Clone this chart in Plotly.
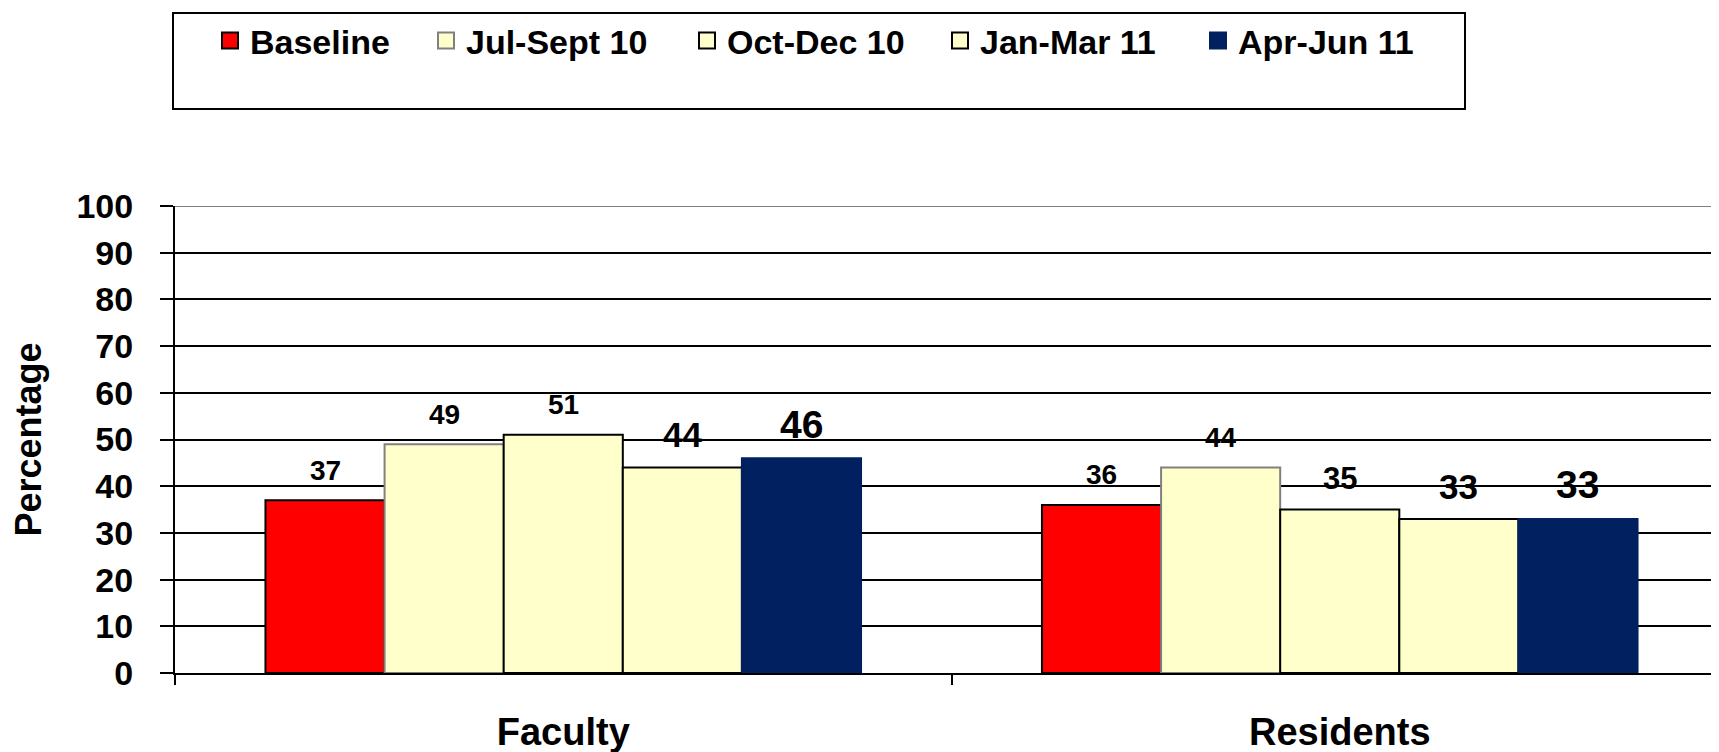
import plotly.graph_objects as go

# ---- data ----
categories = ["Faculty", "Residents"]
series_names = ["Baseline", "Jul-Sept 10", "Oct-Dec 10", "Jan-Mar 11", "Apr-Jun 11"]
baseline = [37, 36]
jul_sept_10 = [49, 44]
oct_dec_10 = [51, 35]
jan_mar_11 = [44, 33]
apr_jun_11 = [46, 33]
series_values = [baseline, jul_sept_10, oct_dec_10, jan_mar_11, apr_jun_11]
y_ticks = [0, 10, 20, 30, 40, 50, 60, 70, 80, 90, 100]

# ---- styles ----
fills = ["#FF0000", "#FFFFCC", "#FFFFCC", "#FFFFCC", "#002060"]
outlines = ["#000000", "#808080", "#000000", "#000000", "#002060"]
label_sizes = [[28, 28], [28, 28], [28, 31], [35, 35], [39, 39]]
FONT = "Liberation Sans, Arial, sans-serif"

OFF = 8  # page body margin of the html page
W, H = 1719 - OFF, 752 - OFF
ML, MR, MT, MB = 175 - OFF, 0, 198, 79
plot_w = W - ML - MR
plot_h = H - MT - MB
legend_left_px = [p - OFF for p in (210, 426, 687, 940, 1198)]
BARGAP = 0.233
n = len(series_names)
CAT_PX = 776.5

fig = go.Figure()
for i, (name, vals) in enumerate(zip(series_names, series_values)):
    leg = "legend" if i == 0 else f"legend{i+1}"
    fig.add_trace(go.Bar(
        name=name, x=categories, y=vals,
        marker=dict(color=fills[i], line=dict(color=outlines[i], width=2)),
        legend=leg, legendgroup=name, showlegend=False,
    ))
    # legend key (square swatch)
    fig.add_trace(go.Scatter(
        name=name, x=[None], y=[None], mode="markers",
        marker=dict(symbol="square", size=16, color=fills[i],
                    line=dict(color=outlines[i], width=2)),
        legend=leg, legendgroup=name, showlegend=True,
    ))

# value labels above bars
w = (1 - BARGAP) / n
for i, vals in enumerate(series_values):
    for j, v in enumerate(vals):
        s = label_sizes[i][j]
        fig.add_annotation(
            x=j + (i - (n - 1) / 2) * w, y=v, xref="x", yref="y",
            text=str(v), showarrow=False, yanchor="middle",
            yshift=20 + 0.36 * s,
            font=dict(family=FONT, size=s, color="black", weight="bold"),
        )

# legends, one per series
legend_y = (H - MB - (41 - OFF)) / plot_h
for i in range(n):
    key = "legend" if i == 0 else f"legend{i+1}"
    fig.update_layout(**{key: dict(
        orientation="h", x=(legend_left_px[i] - ML) / plot_w, xanchor="left",
        y=legend_y, yanchor="middle", bgcolor="rgba(0,0,0,0)", borderwidth=0,
        font=dict(family=FONT, size=34, color="black", weight="bold"),
    )})

# legend frame
fig.add_shape(type="rect", xref="paper", yref="paper",
              x0=(173 - OFF - ML) / plot_w, x1=(1465 - OFF - ML) / plot_w,
              y0=(H - MB - (109 - OFF)) / plot_h, y1=(H - MB - (13 - OFF)) / plot_h,
              line=dict(color="black", width=2), fillcolor="rgba(0,0,0,0)")
# top (100) gridline is grey
fig.add_shape(type="line", xref="paper", yref="y", x0=0, x1=1, y0=100, y1=100,
              line=dict(color="#808080", width=2), layer="above")

fig.update_layout(
    width=W, height=H,
    margin=dict(l=ML, r=MR, t=MT, b=MB, pad=0),
    paper_bgcolor="white", plot_bgcolor="white",
    barmode="group", bargap=BARGAP, bargroupgap=0,
    showlegend=True,
    font=dict(family=FONT, color="black"),
)
fig.update_xaxes(
    range=[-0.5, -0.5 + plot_w / CAT_PX], type="category",
    showline=True, linecolor="black", linewidth=2,
    ticks="outside", tickson="boundaries", ticklen=10, tickwidth=2, tickcolor="black",
    tickfont=dict(family=FONT, size=38, color="black", weight="bold"),
    ticklabelstandoff=24, showgrid=False, zeroline=False,
)
fig.update_yaxes(
    range=[0, 100], tickvals=y_ticks,
    showline=True, linecolor="black", linewidth=2,
    ticks="outside", ticklen=13, tickwidth=2, tickcolor="black",
    tickfont=dict(family=FONT, size=34, color="black", weight="bold"),
    ticklabelstandoff=20,
    showgrid=True, gridcolor="black", gridwidth=2, zeroline=False,
    title=dict(text="Percentage", standoff=28,
               font=dict(family=FONT, size=36, color="black", weight="bold")),
    automargin=False,
)

fig.write_html("out.html")
